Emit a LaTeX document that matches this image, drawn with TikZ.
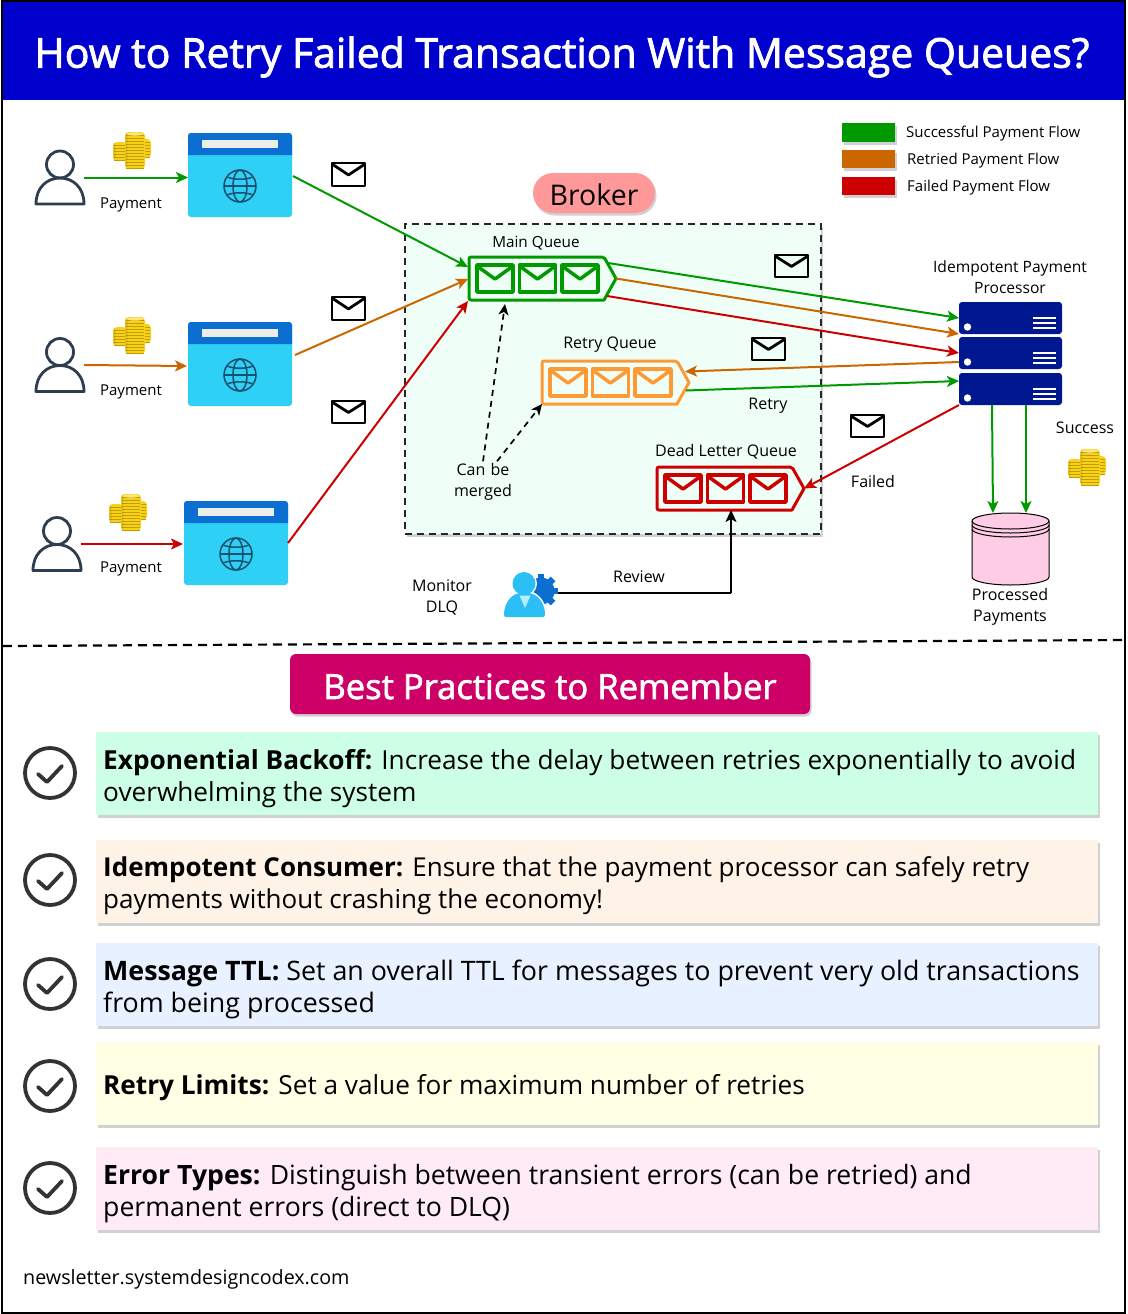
\documentclass[tikz,border=0pt]{standalone}
\usepackage{fontspec}
\setmainfont{Open Sans}
\newfontfamily\titlefont[FakeBold=2]{Open Sans}
\usetikzlibrary{arrows.meta,shadows,calc}
\definecolor{cgreen}{HTML}{009900}
\definecolor{corange}{HTML}{CC6600}
\definecolor{cred}{HTML}{CC0000}
\definecolor{qorange}{HTML}{FF9933}
\definecolor{band}{HTML}{0B6FD1}
\definecolor{sky}{HTML}{2FD0F5}
\definecolor{navy}{HTML}{00188F}
\definecolor{globe}{HTML}{15506F}
\definecolor{ink}{HTML}{2F3E4F}
\definecolor{gold}{HTML}{F7D21A}
\definecolor{golddk}{HTML}{C49C00}
\newcommand\fs[1]{\fontsize{#1}{#1}\selectfont}
\tikzset{
  softshadow/.style={drop shadow={shadow xshift=1.5pt,shadow yshift=-2.5pt,opacity=.18,fill=black}},
  lbl/.style={font=\fs{16},align=center,inner sep=0pt,text=black,yshift=-.5pt},
  flow/.style={line width=2pt,-{Stealth[length=12pt,width=11pt,inset=3pt]}},
  pbox/.style={softshadow},
  ptext/.style={anchor=north west,inner sep=0pt,align=left},
  dashedflow/.style={black,line width=1.7pt,dash pattern=on 6pt off 5pt,-{Stealth[length=11pt,width=10pt,inset=3pt]}},
}
\newcommand\pf[1]{\fontsize{#1}{32}\selectfont}
\newcommand\rectnode[6]{%
  \pgfmathsetlengthmacro\rw{(#4)-(#2)}\pgfmathsetlengthmacro\rh{(#5)-(#3)}%
  \node[inner sep=0pt,outer sep=0pt,anchor=north west,minimum width=\rw,minimum height=\rh,#6] (#1) at (#2,#3) {};}
% envelope: x y w h colour width
\newcommand\envelope[6]{%
  \begin{scope}[shift={(#1,#2)}]
    \draw[#5,line width=#6,line join=round] (0,0) rectangle (#3,#4);
    \draw[#5,line width=#6,line join=round] (0,1) -- ({#3/2},{#4*0.52}) -- (#3,1);
  \end{scope}}
% person: name, cx, cy(centre)
\newcommand\person[3]{%
  \rectnode{#1}{#2-24}{#3-26.5}{#2+24}{#3+26.5}{}
  \begin{scope}[shift={(#2,#3)},ink,line width=2.8pt]
    \draw (0,-13) circle[radius=13.5pt];
    \draw[line join=round] (-24,26.5) .. controls (-24,10) and (-13,0.5) .. (0,0.5) .. controls (13,0.5) and (24,10) .. (24,26.5) -- cycle;
  \end{scope}}
% browser
\newcommand\browser[3]{%
  \rectnode{#1}{#2}{#3}{#2+104}{#3+84}{fill=sky,rounded corners=3pt}
  \begin{scope}[shift={(#2,#3)}]
    \fill[band] (0,22) [rounded corners=3pt] -- (0,0) -- (104,0) [sharp corners] -- (104,22) -- cycle;
    \fill[white!93!black] (14,7) rectangle (90,15);
    \begin{scope}[shift={(52,53)},globe,line width=1.5pt]
      \draw (0,0) circle[radius=16pt];
      \draw (0,0) ellipse[x radius=7pt,y radius=16pt];
      \draw (-16,0) -- (16,0);
      \draw (-13,-9) .. controls (-6,-6) and (6,-6) .. (13,-9);
      \draw (-13,9) .. controls (-6,6) and (6,6) .. (13,9);
    \end{scope}
  \end{scope}}
% coin stacks
\newcommand\stack[4]{% x y w h
  \begin{scope}[shift={(#1,#2)}]
    \fill[gold,rounded corners=4pt] (0,0) rectangle (#3,#4);
    \foreach \yy in {3.5,6.5,...,#4}{\draw[golddk,line width=.5pt] (1,\yy) -- ({#3-1},\yy);}
    \fill[black,opacity=.08,rounded corners=3pt] (0,1) rectangle (2.5,{#4-1});
  \end{scope}}
\newcommand\coins[2]{%
  \begin{scope}[shift={(#1,#2)}]
    \stack{8}{-11}{12}{19}
    \stack{-18}{-8}{14}{19}
    \stack{-6}{-18}{20}{37}
    \fill[gold!55!white] (4,-16) ellipse[x radius=8pt,y radius=1.6pt];
  \end{scope}}
% queue
\newcommand\queue[4]{% name x y colour
  \rectnode{#1}{#2}{#3}{#2+147}{#3+43}{}
  \begin{scope}[shift={(#2,#3)},#4]
    \draw[line width=3pt,line join=round,rounded corners=2pt] (0,0) -- (135,0) [sharp corners] -- (147,21.5) -- (135,43) [rounded corners=2pt] -- (0,43) -- cycle;
    \envelope{8}{8}{36}{27}{#4}{3.5pt}
    \envelope{50.5}{8}{36}{27}{#4}{3.5pt}
    \envelope{93}{8}{36}{27}{#4}{3.5pt}
  \end{scope}}
% server
\newcommand\server[2]{%
  \rectnode{#1}{959}{#2}{1062}{#2+32}{fill=navy,rounded corners=3pt}
  \begin{scope}[shift={(959,#2)},white]
    \fill (8.5,25) circle[radius=3.7pt];
    \foreach \yy in {16,21,26}{\fill (74,\yy-1) rectangle (97,\yy+1);}
  \end{scope}}
% check circle
\newcommand\checkmk[2]{%
  \node[circle,draw=black!80,line width=3.8pt,minimum size=50pt,inner sep=0pt] (#1) at (50,#2) {};
  \begin{scope}[shift={(50,#2)}]
    \draw[black!80,line width=3.8pt,line cap=round,line join=round] (-12,1) -- (-3,9) -- (12,-7);
  \end{scope}}
\begin{document}
\begin{tikzpicture}[x=1pt,y=-1pt]
\useasboundingbox (0,0) rectangle (1127,1314);
\fill[white] (0,0) rectangle (1127,1314);
% title
\rectnode{titlebar}{2}{2}{1125}{100}{fill=blue!80!black}
\node[font=\titlefont\fs{41},text=white,inner sep=0pt] (title) at (562,57) {How to Retry Failed Transaction With Message Queues?};
\draw[black,line width=1.6pt] (2,1) rectangle (1125,1313);
% users etc.
\person{u1}{60}{177.5}
\person{u2}{60}{365}
\person{u3}{57}{544}
\coins{131}{150}
\coins{131}{335}
\coins{127}{512}
\coins{1086}{467}
\browser{w1}{188}{133}
\browser{w2}{188}{322}
\browser{w3}{184}{501}
\node[lbl,font=\fs{15}] (p1) at (131,204) {Payment};
\node[lbl,font=\fs{15}] (p2) at (131,391) {Payment};
\node[lbl,font=\fs{15}] (p3) at (131,568) {Payment};
\draw[flow,cgreen] (u1.east) -- (w1.west |- u1.east);
\draw[flow,corange] (u2.east) -- ($(w2.west)+(-1,2)$);
\draw[flow,cred] (u3.east) -- ($(w3.west)+(-1,1)$);
\envelope{332}{163}{33}{23}{black}{2.8pt}
\envelope{332}{297}{33}{23}{black}{2.8pt}
\envelope{332}{401}{33}{22}{black}{2.8pt}
% legend
\rectnode{l1}{842}{123}{895}{142}{fill=cgreen,softshadow}
\rectnode{l2}{842}{150}{895}{168}{fill=corange,softshadow}
\rectnode{l3}{842}{177}{895}{195}{fill=cred,softshadow}
\node[lbl,anchor=west,font=\fs{15}] (lt1) at (906,133) {Successful Payment Flow};
\node[lbl,anchor=west,font=\fs{15}] (lt2) at (907,160) {Retried Payment Flow};
\node[lbl,anchor=west,font=\fs{15}] (lt3) at (907,187) {Failed Payment Flow};
% broker
\rectnode{brokerbox}{405}{224}{821}{534}{fill={rgb,255:red,239;green,255;blue,248},draw=black!85,line width=2pt,dash pattern=on 7pt off 5pt,softshadow}
\rectnode{brokerpill}{533}{173}{655}{213}{fill={rgb,255:red,255;green,153;blue,153},rounded corners=20pt,softshadow}
\node[font=\fs{28.5},inner sep=0pt] (brokert) at (594,195) {Broker};
\queue{mq}{469}{257}{cgreen}
\queue{rq}{542}{361}{qorange}
\queue{dq}{657}{467}{cred}
\node[lbl,font=\fs{15.3}] (mqt) at (536,243) {Main Queue};
\node[lbl] (rqt) at (610,344) {Retry Queue};
\node[lbl] (dqt) at (726,451) {Dead Letter Queue};
\node[lbl] (rt) at (768,405) {Retry};
\node[lbl,text width=80pt,font=\fontsize{16}{21}\selectfont] (merge) at (483,481.5) {Can be\\merged};
\envelope{775}{255}{33}{22}{black}{2.8pt}
\envelope{752}{338}{33}{22}{black}{2.8pt}
\envelope{851}{415}{33}{22}{black}{2.8pt}
% servers
\server{s1}{302}
\server{s2}{337}
\server{s3}{373}
\node[lbl,font=\fontsize{15.6}{21}\selectfont] (spt) at (1010,276.5) {Idempotent Payment\\Processor};
\node[lbl] (st) at (1085,427) {Success};
\node[lbl] (ft) at (873,481) {Failed};
% cylinder
\rectnode{db}{972}{513}{1049}{585}{}
\begin{scope}[shift={(1010.5,513)},line width=1pt,draw=black]
  \filldraw[fill={rgb,255:red,255;green,204;blue,230}] (-38.5,8) -- (-38.5,64) arc[start angle=180,end angle=360,x radius=38.5pt,y radius=8pt] -- (38.5,8) arc[start angle=0,end angle=180,x radius=38.5pt,y radius=8pt] -- cycle;
  \draw (-38.5,8) arc[start angle=180,end angle=360,x radius=38.5pt,y radius=8pt];
  \draw (-38.5,12) arc[start angle=180,end angle=360,x radius=38.5pt,y radius=8pt];
  \draw (-38.5,16) arc[start angle=180,end angle=360,x radius=38.5pt,y radius=8pt];
\end{scope}
\node[lbl,font=\fontsize{16}{21}\selectfont] (dbt) at (1010,606) {Processed\\Payments};
% connectors
\draw[flow,cgreen] (w1.east) ++(1,1) -- ($(mq.north west)+(-1,10)$);
\draw[flow,corange] ($(w2.east)+(3,-9)$) -- ($(mq.north west)+(-1,22)$);
\draw[flow,cred] ($(w3.east)+(0,0)$) -- ($(mq.south west)+(-1,1)$);
\draw[flow,cgreen] ($(mq.north east)+(-8,6)$) -- (s1.west);
\draw[flow,corange] (mq.east) -- (s1.south west);
\draw[flow,cred] ($(mq.south east)+(-9,-4)$) -- (s2.west);
\draw[flow,corange] ($(s2.west)+(0,9)$) -- ($(rq.east)+(-4,-11)$);
\draw[flow,cgreen] ($(rq.east)+(-3,8)$) -- ($(s3.west)+(0,-8)$);
\draw[flow,cred] (s3.south west) -- (dq.east);
\draw[flow,cgreen] ($(s3.south west)+(33,0)$) -- ($(db.north west)+(21,0)$);
\draw[flow,cgreen] ($(s3.south west)+(67,0)$) -- ($(db.north west)+(54,0)$);
\draw[dashedflow] ($(merge.north)+(0,-2)$) -- ($(mq.south west)+(36,4)$);
\draw[dashedflow] ($(merge.north)+(14,-2)$) -- (rq.south west);
% monitor
\node[inner sep=0pt,minimum width=54pt,minimum height=46pt] (mon) at (531,593) {};
\begin{scope}[shift={(541,591)}]
  \foreach \a in {0,45,...,315}{\fill[band,rotate=\a] (-3.2,-17) rectangle (3.2,-9);}
  \fill[band] (0,0) circle[radius=13.5pt];
\end{scope}
\fill[white] (524,583.5) circle[radius=13pt];
\fill[white] (502,618) -- (502,604) .. controls (508,594) and (518,591) .. (530,591) .. controls (540,594) and (547,603) .. (547,618) -- cycle;
\fill[sky!92!blue] (524,583.5) circle[radius=11.5pt];
\fill[sky!92!blue,rounded corners=2pt] (504,617) .. controls (504,604) and (510,596) .. (519,593) -- (530,593) .. controls (539,596) and (545,604) .. (545,617) -- cycle;
\fill[white!65!sky] (519.5,595.5) -- (530.5,595.5) -- (525,608) -- cycle;
\node[lbl,font=\fontsize{16}{21}\selectfont] (mont) at (442,596.5) {Monitor\\DLQ};
\node[lbl] (revt) at (639,576) {Review};
\draw[black,line width=2pt,-{Stealth[length=12pt,width=11pt,inset=3pt]}] (mon.east) -- ++(173,0) -| (dq.south -| 731,511);
% divider
\coordinate (divl) at (3,646);
\coordinate (divr) at (1125,640);
\draw[black,line width=2.2pt,dash pattern=on 9pt off 6pt] (divl) -- (divr);
% best practices
\rectnode{bp}{290}{654}{810}{714}{fill={rgb,255:red,204;green,0;blue,102},rounded corners=6pt,softshadow}
\node[font=\titlefont\fs{34.6},text=white,inner sep=0pt] (bpt) at (550,686) {Best Practices to Remember};
\rectnode{b1}{96}{732}{1098}{815}{fill={rgb,255:red,204;green,255;blue,230},pbox}
\rectnode{b2}{96}{840}{1098}{923}{fill={rgb,255:red,255;green,242;blue,230},pbox}
\rectnode{b3}{96}{943}{1098}{1026}{fill={rgb,255:red,232;green,241;blue,255},pbox}
\rectnode{b4}{96}{1042}{1098}{1125}{fill={rgb,255:red,255;green,255;blue,230},pbox}
\rectnode{b5}{96}{1147}{1098}{1230}{fill={rgb,255:red,255;green,235;blue,245},pbox}
\node[ptext,font=\pf{26.2}] (t1) at (103,749) {\textbf{Exponential Backoff:} Increase the delay between retries exponentially to avoid\\overwhelming the system};
\node[ptext,font=\pf{26}] (t2) at (103,856) {\textbf{Idempotent Consumer:} Ensure that the payment processor can safely retry\\payments without crashing the economy!};
\node[ptext,font=\pf{26.8}] (t3) at (103,960) {\textbf{Message TTL:} Set an overall TTL for messages to prevent very old transactions\\from being processed};
\node[ptext,font=\pf{26.2}] (t4) at (103,1074) {\textbf{Retry Limits:} Set a value for maximum number of retries};
\node[ptext,font=\pf{26.6}] (t5) at (103,1164) {\textbf{Error Types:} Distinguish between transient errors (can be retried) and\\permanent errors (direct to DLQ)};
\checkmk{c1}{773}
\checkmk{c2}{880}
\checkmk{c3}{984}
\checkmk{c4}{1086}
\checkmk{c5}{1188}
\node[anchor=west,inner sep=0pt,font=\fs{19.7}] (foot) at (23,1279) {newsletter.systemdesigncodex.com};
\end{tikzpicture}
\end{document}
